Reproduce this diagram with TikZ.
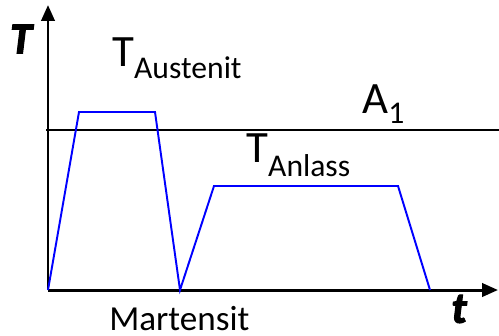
\documentclass[tikz,border=0pt]{standalone}
\usepackage{fontspec}
\setmainfont{Carlito}
\newfontfamily\axfont{Carlito}[BoldItalicFeatures={FakeBold=2.5}]
\usetikzlibrary{positioning, arrows.meta}

\newcommand{\bigT}[2]{\fontsize{25.5}{28}\selectfont T\raisebox{-#2}{\fontsize{18}{20}\selectfont #1}}

\begin{document}
\begin{tikzpicture}[
        x=0.02cm, y=-0.02cm,
        axis/.style  = {line width=1.7pt, -{Triangle[length=9pt, width=7.5pt]}},
        level/.style = {line width=1.1pt},
        curve/.style = {line width=1.1pt, blue, line join=miter},
        lbl/.style   = {inner sep=0pt, anchor=base west},
        axlbl/.style = {inner sep=0pt, font=\fontsize{25}{27}\axfont\bfseries\itshape},
    ]
        \useasboundingbox (0,0) rectangle (499,335);
        % axes
        \coordinate (o) at (48,290);
        \coordinate (ytip) at (48,5);
        \coordinate (xtip) at (498,290);
        \draw[axis] (o) -- (ytip);
        \draw[axis] (o) -- (xtip);
        \node[axlbl] (tlab) at (21,39) {T};
        \node[axlbl] (xlab) at (459,309) {t};
        % A1 line
        \coordinate (a1l) at (46,130);
        \coordinate (a1r) at (499,130);
        \draw[level] (a1l) -- (a1r);
        % heat treatment
        \draw[curve] (o) -- (79,112) -- (155,112) -- (180,290)
            -- (214,186) -- (398,186) -- (430,290);
        % labels
        \node[lbl] (taus) at (112,66) {\bigT{Austenit}{7pt}};
        \node[lbl] (tanl) at (246,162) {\bigT{Anlass}{8.5pt}};
        \node[lbl] (aone) at (362,113) {\fontsize{25.5}{28}\selectfont A\raisebox{-5.7pt}{\fontsize{18}{20}\selectfont 1}};
        \node[lbl, font=\fontsize{20}{22}\selectfont] (mart) at (109,330) {Martensit};
\end{tikzpicture}
\end{document}
